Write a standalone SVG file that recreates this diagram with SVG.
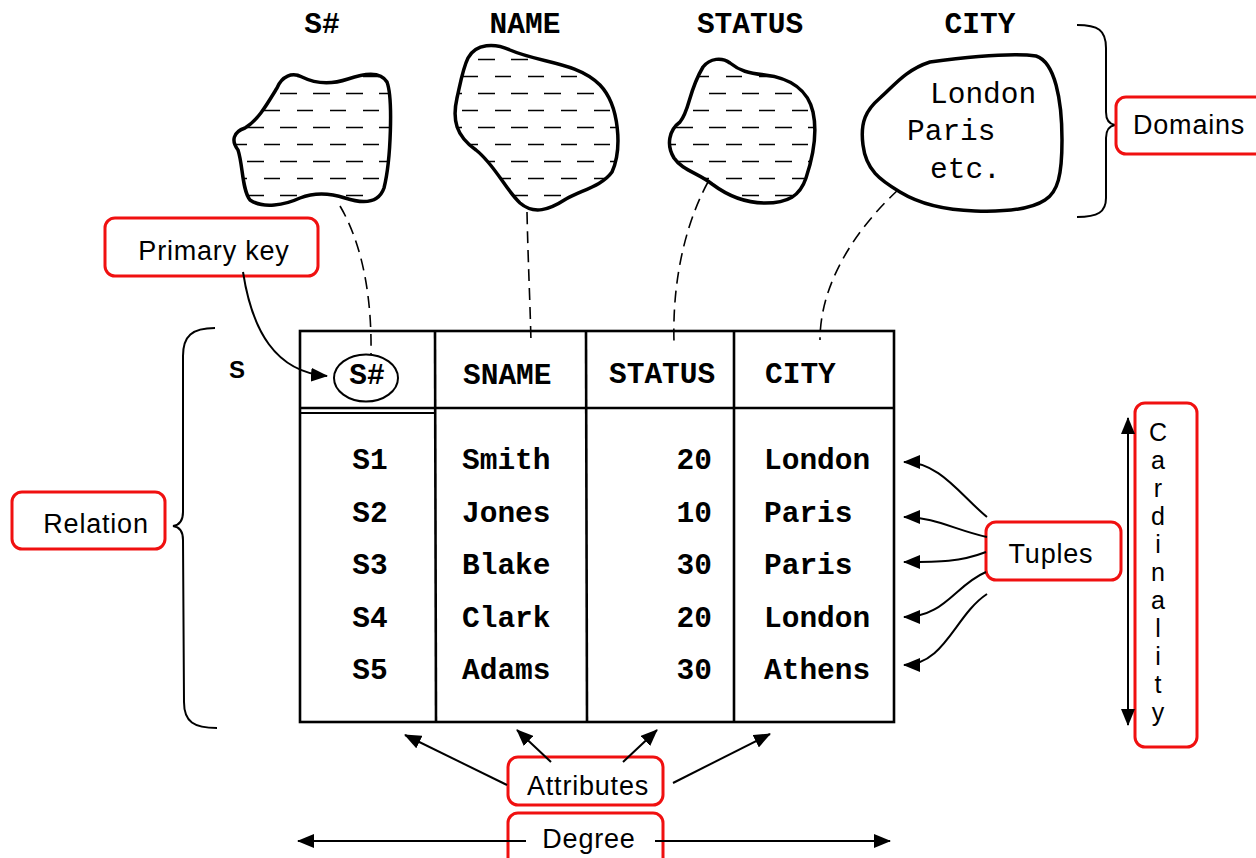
<svg xmlns="http://www.w3.org/2000/svg" width="1256" height="858" viewBox="0 0 1256 858">
<style>
.mono{font-family:"Liberation Mono","Courier New",monospace;font-size:29.5px;fill:#000}
.b{font-weight:bold}
.lbl{font-family:"Liberation Sans",Arial,Helvetica,sans-serif;font-size:27px;fill:#000;letter-spacing:0.8px}
.card{font-family:"Liberation Sans",Arial,Helvetica,sans-serif;font-size:25px;fill:#000;writing-mode:vertical-rl;text-orientation:upright}
.red{fill:#fff;stroke:#f01010;stroke-width:3}
.blob{stroke:#000;stroke-width:3.5;fill:url(#hatch)}
.blobw{stroke:#000;stroke-width:3.5;fill:#fff}
.dash{fill:none;stroke:#000;stroke-width:1.6;stroke-dasharray:12 7}
.ln{fill:none;stroke:#000;stroke-width:2}
.tb{fill:none;stroke:#000;stroke-width:2.6}
.arr{fill:none;stroke:#000;stroke-width:2;marker-end:url(#ah)}
</style>
<defs>
<pattern id="hatch" patternUnits="userSpaceOnUse" width="33" height="34">
<rect width="33" height="34" fill="#fff"/>
<path d="M0,8.5 H16 M16,25.5 H33" stroke="#000" stroke-width="1.7"/>
</pattern>
<marker id="ah" markerUnits="userSpaceOnUse" markerWidth="18" markerHeight="14" refX="16" refY="7" orient="auto-start-reverse">
<path d="M0,0 L17,7 L0,14 z" fill="#000"/>
</marker>
</defs>

<g id="domain-labels">
<text class="mono b" x="322" y="33" text-anchor="middle">S#</text>
<text class="mono b" x="525" y="33" text-anchor="middle">NAME</text>
<text class="mono b" x="750" y="33" text-anchor="middle">STATUS</text>
<text class="mono b" x="980" y="33" text-anchor="middle">CITY</text>
</g>

<g id="domain-s">
<path class="blob" d="M 277,88 C 282,76 292,72 302,77 C 318,85 333,84 348,79 C 362,74 380,70 387,82 C 393,98 391,160 384,188 C 378,205 360,203 345,198 C 330,193 315,192 300,198 C 285,205 263,209 250,200 C 242,190 243,165 238,150 C 231,141 233,132 245,128 C 258,120 266,106 277,88 Z"/>
</g>
<g id="domain-name">
<path class="blob" d="M 468,58 C 476,43 495,43 510,50 C 540,63 577,62 600,85 C 620,106 622,150 612,172 C 602,186 582,190 566,199 C 549,210 534,215 520,203 C 505,189 495,165 476,150 C 456,136 452,120 457,98 C 461,80 463,68 468,58 Z"/>
</g>
<g id="domain-status">
<path class="blob" d="M 703,67 C 710,58 722,57 730,63 C 740,71 748,73 765,75 C 790,78 808,90 813,112 C 818,135 812,160 806,178 C 800,196 788,203 765,203 C 745,203 728,196 712,184 C 698,173 682,170 674,158 C 666,145 669,130 680,122 C 690,110 688,92 703,67 Z"/>
</g>
<g id="domain-city">
<path class="blobw" d="M 930,62 C 960,58 1010,52 1036,56 C 1055,62 1062,100 1062,140 C 1062,175 1058,192 1045,200 C 1030,210 1005,212 975,211 C 945,210 918,203 900,192 C 880,180 866,170 863,145 C 860,122 866,110 880,98 C 893,87 905,70 930,62 Z"/>
<text class="mono" x="930" y="103">London</text>
<text class="mono" x="907" y="140">Paris</text>
<text class="mono" x="930" y="178">etc.</text>
</g>

<g id="domains-brace">
<path class="ln" d="M 1077,25 C 1098,25 1106,30 1106,48 L 1106,112 C 1106,120 1109,124 1115,125 C 1109,126 1106,130 1106,138 L 1106,198 C 1106,212 1098,217 1077,217"/>
</g>
<g id="domains-label">
<rect class="red" x="1116" y="97" width="150" height="57" rx="10"/>
<text class="lbl" x="1133" y="134">Domains</text>
</g>

<g id="primary-key-label">
<rect class="red" x="105" y="218" width="213" height="58" rx="10"/>
<text class="lbl" x="214" y="260" text-anchor="middle">Primary key</text>
</g>

<g id="relation-s">
<text x="229" y="378" font-family="Liberation Sans,Arial,sans-serif" font-weight="bold" font-size="24">S</text>
<rect class="tb" x="300" y="331" width="594" height="391"/>
<line class="tb" x1="300" y1="408" x2="894" y2="408"/>
<line class="ln" x1="300" y1="413" x2="435" y2="413"/>
<line class="tb" x1="435" y1="331" x2="436" y2="722"/>
<line class="tb" x1="586" y1="331" x2="587" y2="722"/>
<line class="tb" x1="734" y1="331" x2="734" y2="722"/>
<ellipse cx="366" cy="378" rx="32" ry="23.5" fill="none" stroke="#000" stroke-width="2"/>
<text class="mono b" x="367" y="384" text-anchor="middle">S#</text>
<text class="mono b" x="463" y="384">SNAME</text>
<text class="mono b" x="609" y="383">STATUS</text>
<text class="mono b" x="765" y="383">CITY</text>
<g class="mono b">
<text x="370" y="469" text-anchor="middle">S1</text>
<text x="370" y="522" text-anchor="middle">S2</text>
<text x="370" y="574" text-anchor="middle">S3</text>
<text x="370" y="627" text-anchor="middle">S4</text>
<text x="370" y="679" text-anchor="middle">S5</text>
<text x="462" y="469">Smith</text>
<text x="462" y="522">Jones</text>
<text x="462" y="574">Blake</text>
<text x="462" y="627">Clark</text>
<text x="462" y="679">Adams</text>
<text x="712" y="469" text-anchor="end">20</text>
<text x="712" y="522" text-anchor="end">10</text>
<text x="712" y="574" text-anchor="end">30</text>
<text x="712" y="627" text-anchor="end">20</text>
<text x="712" y="679" text-anchor="end">30</text>
<text x="764" y="469">London</text>
<text x="764" y="522">Paris</text>
<text x="764" y="574">Paris</text>
<text x="764" y="627">London</text>
<text x="764" y="679">Athens</text>
</g>
</g>

<g id="relation-brace">
<path class="ln" d="M 215,328 C 192,328 183,336 183,356 L 183,512 C 183,520 180,525 173,526 C 180,527 183,532 183,540 L 184,702 C 184,722 194,728 217,728"/>
</g>
<g id="relation-label">
<rect class="red" x="12" y="492" width="153" height="57" rx="10"/>
<text class="lbl" x="96" y="533" text-anchor="middle">Relation</text>
</g>

<g id="tuples-label">
<rect class="red" x="986" y="522" width="135" height="58" rx="10"/>
<text class="lbl" x="1051" y="563" text-anchor="middle">Tuples</text>
</g>

<g id="cardinality-label">
<rect class="red" x="1135" y="403" width="62" height="344" rx="10"/>
<text class="card" x="1158" y="418">Cardinality</text>
</g>

<g id="attributes-label">
<rect class="red" x="508" y="757" width="155" height="48" rx="10"/>
<text class="lbl" x="588" y="795" text-anchor="middle">Attributes</text>
</g>

<g id="degree-label">
<rect class="red" x="508" y="813" width="155" height="60" rx="10"/>
<text class="lbl" x="589" y="848" text-anchor="middle">Degree</text>
</g>

<g id="connectors">
<path class="dash" d="M 340,206 C 360,240 372,290 371,354"/>
<path class="dash" d="M 527,212 C 528,260 530,300 531,342"/>
<path class="dash" d="M 708,182 C 690,215 672,270 674,342"/>
<path class="dash" d="M 898,190 C 860,225 820,280 820,340"/>
<path class="arr" d="M 243,272 C 252,330 275,372 327,376"/>
<path class="arr" d="M 987,517 C 960,495 940,462 904,462"/>
<path class="arr" d="M 987,537 C 955,530 935,517 904,517"/>
<path class="arr" d="M 986,552 C 960,562 940,562 904,562"/>
<path class="arr" d="M 986,572 C 955,585 945,617 904,617"/>
<path class="arr" d="M 987,594 C 955,615 945,665 904,665"/>
<path class="arr" d="M 1128,725 L 1128,418" style="marker-start:url(#ah)"/>
<path class="arr" d="M 507,785 L 405,735"/>
<path class="arr" d="M 551,762 L 517,730"/>
<path class="arr" d="M 623,762 L 657,730"/>
<path class="arr" d="M 673,783 L 770,734"/>
<path class="arr" d="M 526,841 L 298,841"/>
<path class="arr" d="M 655,841 L 890,841"/>
</g>
</svg>
